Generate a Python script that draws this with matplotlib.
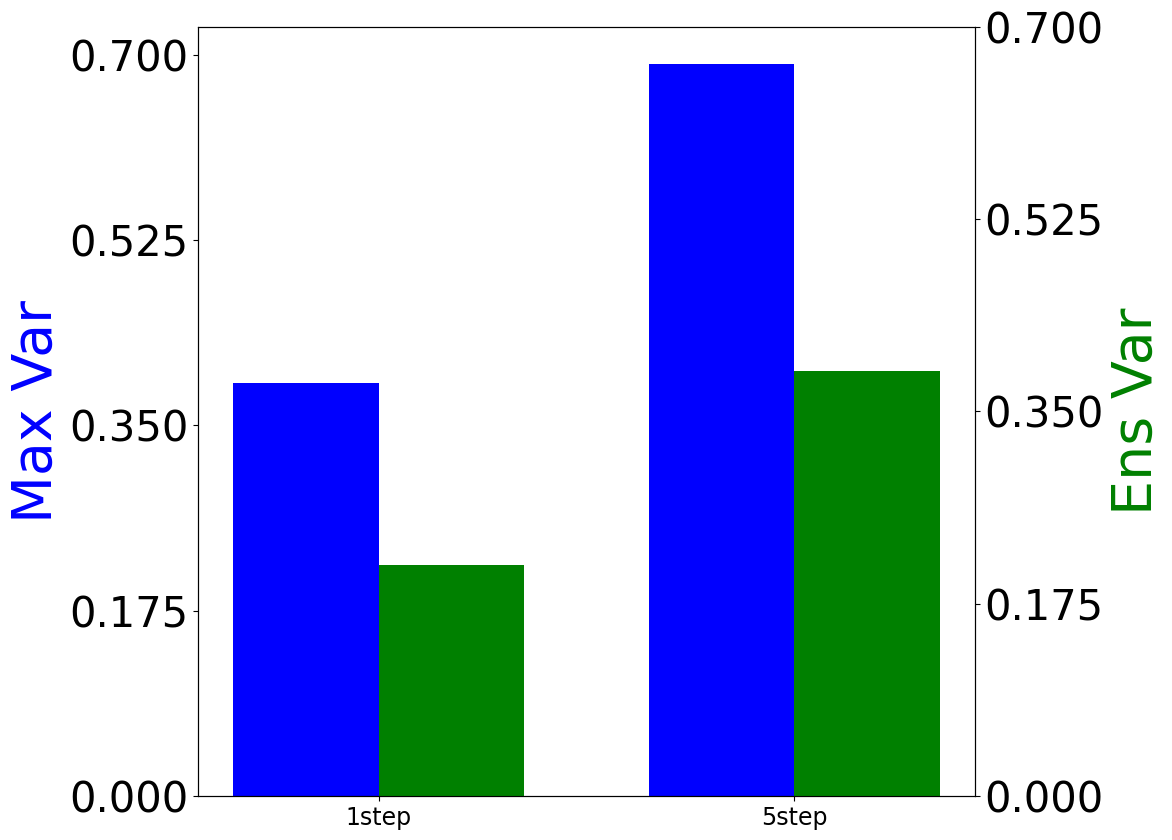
import matplotlib
matplotlib.use("Agg")
import matplotlib.pyplot as plt
import numpy as np

categories = ["1step", "5step"]
max_var = [0.3896, 0.6915]
ens_var = [0.2103, 0.3869]
left_ticks = [0.0, 0.175, 0.35, 0.525, 0.7]
right_ticks = [0.0, 0.175, 0.35, 0.525, 0.7]

fig = plt.figure(figsize=(11.72, 8.4), dpi=100)
ax = fig.add_axes([198/1172, 44/840, (975-198)/1172, (796-27)/840])
ax2 = ax.twinx()

x = np.arange(len(categories))
w = 0.35
ax.bar(x - w/2, max_var, w, color="blue")
ax2.bar(x + w/2, ens_var, w, color="green")

ax.set_ylim(0, max(max_var) * 1.05)
ax2.set_ylim(0, 0.7)
ax.set_yticks(left_ticks)
ax2.set_yticks(right_ticks)
ax.set_yticklabels([f"{t:.3f}" for t in left_ticks], fontsize=30)
ax2.set_yticklabels([f"{t:.3f}" for t in right_ticks], fontsize=30)
ax.set_xticks(x)
ax.set_xticklabels(categories, fontsize=17)
ax.set_ylabel("Max Var", color="blue", fontsize=40)
ax2.set_ylabel("Ens Var", color="green", fontsize=40)

fig.savefig("out.png", dpi=100)
